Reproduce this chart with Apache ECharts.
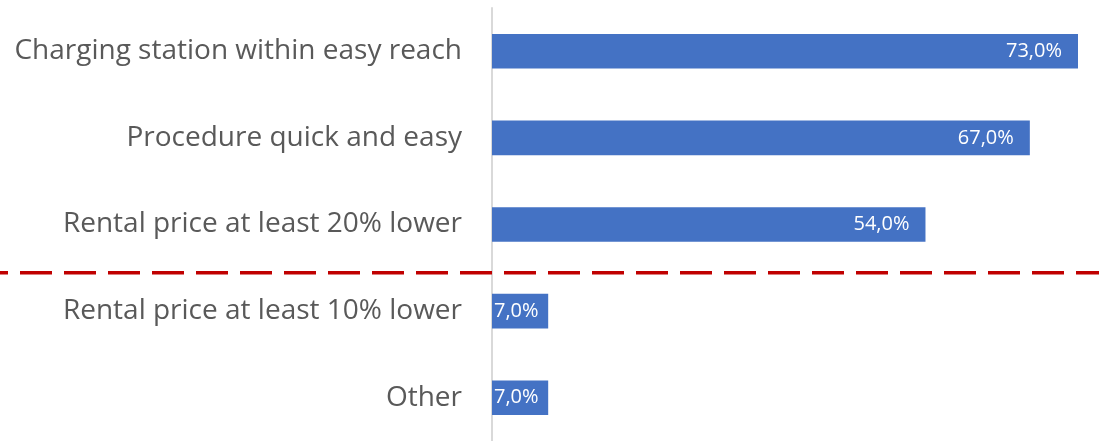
<!DOCTYPE html>
<html>
<head>
<meta charset="utf-8">
<script src="https://cdn.jsdelivr.net/npm/echarts@6/dist/echarts.min.js"></script>
<style>
html,body{margin:0;padding:0;background:#fff;}
#main{width:1099px;height:441px;}
</style>
</head>
<body>
<div id="main"></div>
<script>
const categories = [
  'Charging station within easy reach',
  'Procedure quick and easy',
  'Rental price at least 20% lower',
  'Rental price at least 10% lower',
  'Other'
];
const values = [73.0, 67.0, 54.0, 7.0, 7.0];
const splitAfterIndex = 2;

const chart = echarts.init(document.getElementById('main'), null, {renderer: 'canvas'});
const FONT = '"Open Sans", "Liberation Sans", sans-serif';

chart.setOption({
  animation: false,
  backgroundColor: '#ffffff',
  grid: {left: 492, right: 21, top: 8, height: 436, containLabel: false},
  xAxis: {
    type: 'value', min: 0, max: 73, show: false
  },
  yAxis: {
    type: 'category',
    data: categories,
    inverse: true,
    axisLine: {show: true, lineStyle: {color: '#d9d9d9', width: 2}},
    axisTick: {show: false},
    splitLine: {show: false},
    axisLabel: {margin: 30, color: '#595959', fontSize: 28, fontFamily: FONT}
  },
  series: [{
    type: 'bar',
    data: values.map(v => ({
      value: v,
      label: v < 10 ? {position: 'insideLeft', distance: 2} : {position: 'insideRight', distance: 16}
    })),
    barCategoryGap: '60%',
    itemStyle: {color: '#4472C4'},
    label: {
      show: true,
      color: '#ffffff',
      fontSize: 20,
      fontFamily: FONT,
      formatter: p => p.value.toFixed(1).replace('.', ',') + '%'
    }
  }]
});

const ya = chart.convertToPixel({yAxisIndex: 0}, categories[splitAfterIndex]);
const yb = chart.convertToPixel({yAxisIndex: 0}, categories[splitAfterIndex + 1]);
const yLine = (ya + yb) / 2 + 5;
chart.setOption({
  graphic: [{
    type: 'line',
    shape: {x1: 0, y1: yLine, x2: 1099, y2: yLine},
    style: {stroke: '#C00000', lineWidth: 3.5, lineDash: [32, 12], lineDashOffset: 24},
    z: 10
  }]
});
</script>
</body>
</html>
